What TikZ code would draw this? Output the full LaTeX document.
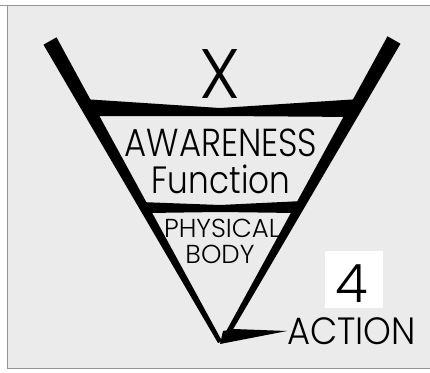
\documentclass[tikz,border=0pt]{standalone}
\usepackage{fontspec}
\setmainfont{Poppins}[UprightFont={* Light}]
\usepackage{tikz}
\definecolor{paper}{RGB}{235,235,235}
\definecolor{rulecol}{RGB}{150,150,150}
\tikzset{
  lbl/.style   ={inner sep=0pt, font=\fontsize{#1}{#1}\selectfont},
  ink/.style   ={fill=black, draw=none},
  frame/.style ={draw=rulecol, line width=1pt},
}
\begin{document}
\begin{tikzpicture}[x=1pt, y=-1pt]
  % paper and frame
  \useasboundingbox (0,0) rectangle (430,372);
  \fill[white] (0,0) rectangle (430,372);
  \fill[paper] (7,5) rectangle (430,368);
  \draw[frame] (0,5) -- (430,5);
  \draw[frame] (7,5) -- (7,368) -- (430,368);

  % the V with its two cross bars
  \fill[ink] (43.5,44.7) -- (56.5,37.3) -- (222,341) -- (218,343) -- cycle;
  \fill[ink] (387.5,36.3) -- (400.5,43.7) -- (230.2,334.2) -- (225.8,331.8) -- cycle;
  \fill[ink] (83,99) -- (220,108) -- (360,99) -- (357,117) -- (220,116) -- (86,116) -- cycle;
  \fill[ink] (140,202) -- (220,205) -- (303,201) -- (296,213) -- (220,212) -- (147,213) -- cycle;

  % labels
  \node[lbl=70] (xlbl) at (220,74) {X};
  \node[lbl=39] (awareness) at (221,143) {\scalebox{.87}[1]{AWARENESS}};
  \node[lbl=38] (function) at (221,179) {\scalebox{.86}[1]{Function}};
  \node[lbl=26] (physical) at (222,228) {PHYSICAL};
  \node[lbl=26] (body) at (220,254) {BODY};
  \fill[white] (325,251) rectangle (383,308);
  \node[lbl=53] (four) at (352,284) {4};
  \node[lbl=38, anchor=west] (action) at (287,331) {\scalebox{.93}[1]{ACTION}};

  % pointer from the tip of the V to the action
  \fill[ink] (223,331) -- (234,329) -- (action.west) -- (220,344) -- cycle;
\end{tikzpicture}
\end{document}
